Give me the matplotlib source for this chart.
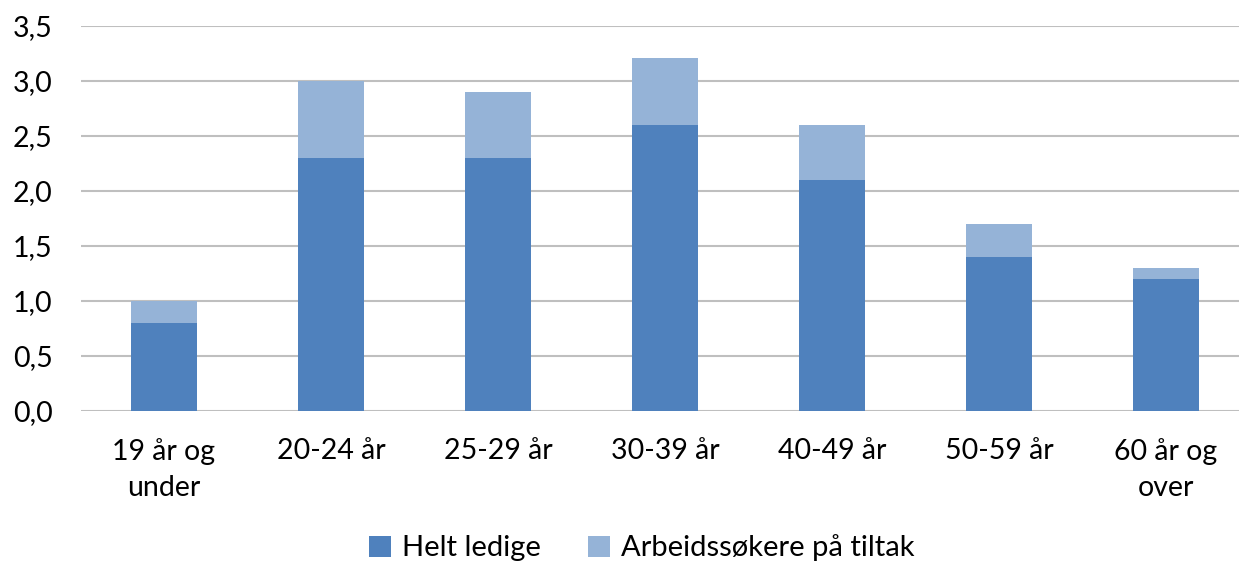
import matplotlib.pyplot as plt
import numpy as np

plt.rcParams["font.family"] = ["Lato", "DejaVu Sans"]

categories = ["19 år og\nunder", "20-24 år", "25-29 år", "30-39 år", "40-49 år", "50-59 år", "60 år og\nover"]
helt_ledige = [0.8, 2.3, 2.3, 2.6, 2.1, 1.4, 1.2]
tiltak = [0.2, 0.7, 0.6, 0.6, 0.5, 0.3, 0.1]
series_names = ["Helt ledige", "Arbeidssøkere på tiltak"]

W, H = 1239, 566
fig = plt.figure(figsize=(W / 100, H / 100), dpi=100)
ax = fig.add_axes([80.5 / W, 1 - 410.5 / H, 1169 / W, 385 / H])

x = np.arange(len(categories))
ax.bar(x, helt_ledige, width=0.4, color="#4F81BD", label=series_names[0], zorder=3)
ax.bar(x, tiltak, width=0.4, bottom=helt_ledige, color="#95B3D7", label=series_names[1], zorder=3)

ax.set_xlim(-0.5, len(categories) - 0.5)
ax.set_ylim(0, 3.5)
yticks = np.arange(0, 3.51, 0.5)
ax.set_yticks(yticks)
ax.set_yticklabels([f"{v:.1f}".replace(".", ",") for v in yticks])
ax.set_xticks(x)
ax.set_xticklabels(categories, linespacing=1.45)
ax.tick_params(axis="both", length=0, labelsize=20.5, colors="#000000")
ax.tick_params(axis="x", pad=20)
ax.tick_params(axis="y", pad=20)
ax.yaxis.grid(True, color="#BFBFBF", linewidth=1.5, zorder=0)
for side in ["top", "right", "left", "bottom"]:
    ax.spines[side].set_visible(False)

fig.legend(loc="center", bbox_to_anchor=(0.518, 0.032), ncol=2, frameon=False,
           fontsize=21, handlelength=0.75, handleheight=0.75, columnspacing=1.6, handletextpad=0.4)

fig.savefig("out.png", dpi=100)
